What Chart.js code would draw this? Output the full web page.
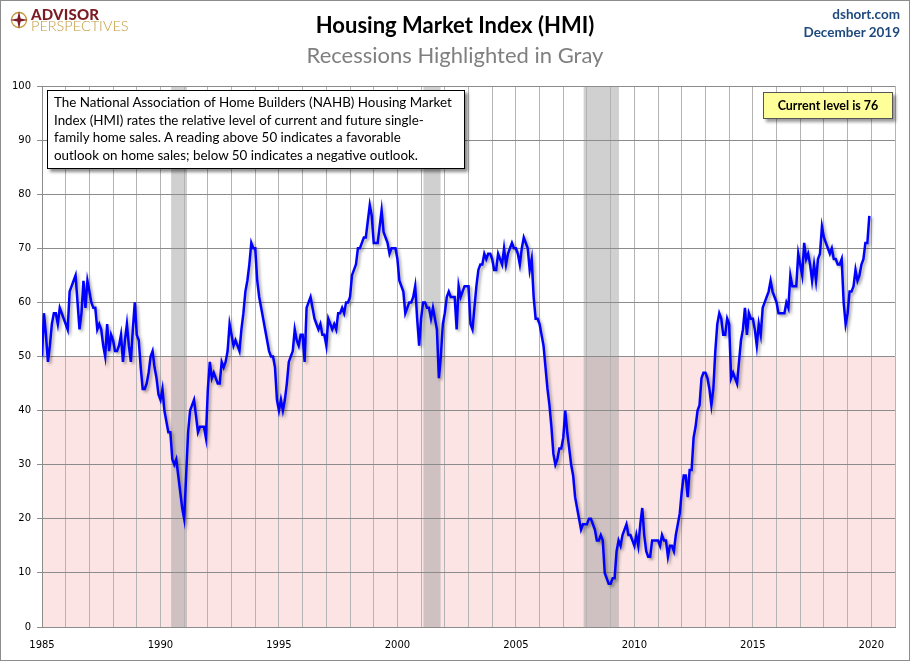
<!DOCTYPE html>
<html>
<head>
<meta charset="utf-8">
<script src="https://cdn.jsdelivr.net/npm/chart.js@4.4.0/dist/chart.umd.min.js"></script>
<style>
    body { margin: 0; background: #fff; }
    #wrap { position: relative; width: 910px; height: 661px; overflow: hidden; }
    #chart { position: absolute; left: 0; top: 0; }
    .txt { position: absolute; white-space: nowrap; font-family: Lato, sans-serif; }
    #title { left: 0; width: 910px; top: 11px; text-align: center; font-size: 22px; font-weight: bold; color: #000; }
    #subtitle { left: 0; width: 910px; top: 41px; text-align: center; font-size: 22px; color: #7f7f7f; }
    #site { right: 10px; top: 5px; text-align: right; font-size: 13.5px; font-weight: bold; color: #1f497d; line-height: 18px; }
    #logo1 { left: 31px; top: 5px; font-size: 15px; font-weight: 900; color: #7b1c24; letter-spacing: 0.2px; }
    #logo2 { left: 31px; top: 17px; font-size: 14.5px; font-weight: 300; color: #c49a3c; }
    #icon { position: absolute; left: 10px; top: 11px; }
    #note { left: 47px; top: 90px; width: 410px; height: 71px; padding: 3px 0 3px 6px; background: #fff;
            border: 1px solid #000; box-shadow: 3px 3px 3px rgba(0,0,0,0.45);
            font-size: 13.4px; line-height: 17.7px; color: #000; }
    #level { left: 763px; top: 92px; width: 128px; height: 25px; background: #ffff99; border: 1px solid #555;
             box-shadow: 3px 3px 3px rgba(0,0,0,0.4); font-size: 12.5px; font-weight: bold; line-height: 25px;
             text-align: center; color: #000; }
</style>
</head>
<body>
<div id="wrap">
    <canvas id="chart" width="910" height="661"></canvas>
    <svg id="icon" width="18" height="18" viewBox="0 0 18 18">
        <circle cx="9" cy="9" r="7.5" fill="none" stroke="#c49a3c" stroke-width="1.3"/>
        <polygon points="9,0 10.6,7.4 18,9 10.6,10.6 9,18 7.4,10.6 0,9 7.4,7.4" fill="#7b1c24"/>
    </svg>
    <div class="txt" id="logo1">ADVISOR</div>
    <div class="txt" id="logo2">PERSPECTIVES</div>
    <div class="txt" id="title">Housing Market Index (HMI)</div>
    <div class="txt" id="subtitle">Recessions Highlighted in Gray</div>
    <div class="txt" id="site">dshort.com<br>December 2019</div>
    <div class="txt" id="note">The National Association of Home Builders (NAHB) Housing Market<br>Index (HMI) rates the relative level of current and future single-<br>family home sales. A reading above 50 indicates a favorable<br>outlook on home sales; below 50 indicates a negative outlook.</div>
    <div class="txt" id="level">Current level is 76</div>
</div>
<script>
// Monthly HMI readings, January 1985 to December 2019 (12 per row)
const startYear = 1985;
const hmiValues = [
    50, 58, 54, 49, 52, 56, 58, 58, 56, 59, 58, 57,
    56, 55, 62, 63, 64, 65, 60, 55, 58, 64, 59, 64,
    62, 60, 59, 59, 55, 56, 55, 52, 50, 56, 51, 54,
    53, 51, 51, 52, 54, 49, 53, 56, 52, 49, 55, 60,
    54, 53, 48, 44, 44, 45, 47, 50, 51, 48, 46, 43,
    42, 44, 40, 38, 36, 36, 31, 30, 31, 28, 25, 22,
    20, 28, 36, 40, 41, 42, 39, 36, 37, 37, 37, 35,
    44, 49, 46, 47, 46, 45, 45, 49, 48, 49, 51, 56,
    54, 52, 53, 52, 51, 55, 58, 62, 64, 67, 71, 70,
    70, 64, 61, 59, 57, 55, 53, 51, 50, 50, 48, 42,
    40, 42, 40, 42, 45, 49, 50, 51, 55, 53, 52, 54,
    54, 49, 59, 60, 61, 59, 57, 56, 55, 56, 54, 54,
    52, 57, 56, 55, 56, 55, 58, 58, 59, 58, 60, 60,
    61, 65, 66, 67, 70, 70, 71, 72, 72, 75, 78, 76,
    71, 71, 71, 74, 77, 73, 72, 71, 69, 70, 70, 70,
    68, 64, 63, 62, 58, 59, 60, 60, 61, 63, 57, 52,
    57, 60, 60, 59, 59, 57, 59, 57, 55, 46, 50, 56,
    58, 61, 62, 61, 61, 61, 55, 63, 61, 62, 63, 63,
    63, 56, 55, 59, 63, 66, 67, 67, 69, 68, 69, 69,
    68, 66, 66, 69, 68, 67, 70, 67, 69, 70, 71, 70,
    70, 69, 67, 70, 72, 71, 70, 66, 68, 61, 57, 57,
    56, 54, 52, 48, 44, 41, 37, 32, 30, 31, 33, 33,
    35, 40, 36, 33, 30, 28, 24, 22, 20, 18, 19, 19,
    19, 20, 20, 19, 18, 16, 16, 17, 16, 10, 9, 8,
    8, 9, 9, 14, 16, 15, 17, 18, 19, 17, 17, 16,
    15, 17, 15, 19, 22, 17, 14, 13, 13, 16, 16, 16,
    16, 15, 17, 16, 16, 13, 15, 15, 14, 17, 19, 21,
    25, 28, 28, 24, 29, 29, 35, 37, 40, 41, 46, 47,
    47, 46, 44, 41, 44, 51, 56, 58, 57, 54, 54, 57,
    56, 46, 47, 46, 45, 49, 53, 55, 59, 54, 58, 57,
    57, 55, 52, 56, 54, 59, 60, 61, 62, 64, 62, 61,
    60, 58, 58, 58, 58, 60, 59, 65, 63, 63, 63, 69,
    67, 65, 71, 68, 69, 67, 64, 67, 64, 68, 69, 74,
    72, 71, 70, 69, 70, 68, 68, 67, 67, 68, 60, 56,
    58, 62, 62, 63, 66, 64, 65, 67, 68, 71, 71, 76
];
// Recessions (decimal years)
const recessionStarts = [1990.45, 2001.1, 2007.86];
const recessionEnds = [1991.12, 2001.82, 2009.35];
const xMin = 1985, xMax = 2021;
const yMin = 0, yMax = 100, yStep = 10;
const neutralLevel = 50;

const points = hmiValues.map((v, i) => ({ x: startYear + i / 12, y: v }));

// Pink zone below 50 and gray recession bands, under the grid
const backdrop = {
    id: 'backdrop',
    beforeDraw(chart) {
        const { ctx, chartArea: a, scales: { x, y } } = chart;
        ctx.save();
        ctx.fillStyle = '#fff';
        ctx.fillRect(0, 0, chart.width, chart.height);
        ctx.fillStyle = '#fde4e4';
        ctx.fillRect(a.left, y.getPixelForValue(neutralLevel), a.right - a.left, y.getPixelForValue(0) - y.getPixelForValue(neutralLevel));
        ctx.fillStyle = 'rgba(150,150,150,0.45)';
        recessionStarts.forEach((s, i) => {
            const x0 = x.getPixelForValue(s);
            const x1 = x.getPixelForValue(recessionEnds[i]);
            ctx.fillRect(x0, a.top, x1 - x0, a.bottom - a.top);
        });
        ctx.restore();
    },
    afterDraw(chart) {
        const ctx = chart.ctx;
        ctx.save();
        ctx.strokeStyle = '#8c8c8c';
        ctx.lineWidth = 1;
        ctx.strokeRect(0.5, 0.5, chart.width - 1, chart.height - 1);
        ctx.restore();
    }
};

// Soft shadow under the line
const lineShadow = {
    id: 'lineShadow',
    beforeDatasetDraw(chart) {
        const ctx = chart.ctx;
        ctx.save();
        ctx.shadowColor = 'rgba(0,0,0,0.35)';
        ctx.shadowOffsetX = 2;
        ctx.shadowOffsetY = 2;
        ctx.shadowBlur = 3;
    },
    afterDatasetDraw(chart) {
        chart.ctx.restore();
    }
};

const tickFont = { family: 'DejaVu Sans', size: 10 };

new Chart(document.getElementById('chart'), {
    type: 'line',
    data: {
        datasets: [{
            label: 'HMI',
            data: points,
            borderColor: '#0000ff',
            borderWidth: 2.5,
            pointRadius: 0,
            tension: 0,
            fill: false
        }]
    },
    options: {
        responsive: false,
        animation: false,
        layout: { padding: { top: 86, right: 15, left: 0, bottom: 0 } },
        plugins: { legend: { display: false }, tooltip: { enabled: false } },
        scales: {
            x: {
                type: 'linear',
                min: xMin,
                max: xMax,
                afterFit: (s) => { s.height = 34; },
                grid: { color: '#b4b4b4', drawTicks: false },
                border: { color: '#8c8c8c' },
                ticks: {
                    stepSize: 1,
                    autoSkip: false,
                    maxRotation: 0,
                    padding: 12,
                    color: '#000',
                    font: tickFont,
                    callback: (v) => (v % 5 === 0 ? String(v) : '')
                }
            },
            y: {
                min: yMin,
                max: yMax,
                afterFit: (s) => { s.width = 42; },
                grid: { color: '#8c8c8c', tickLength: 5 },
                border: { color: '#8c8c8c' },
                ticks: { stepSize: yStep, padding: 6, color: '#000', font: tickFont }
            }
        }
    },
    plugins: [backdrop, lineShadow]
});
</script>
</body>
</html>
